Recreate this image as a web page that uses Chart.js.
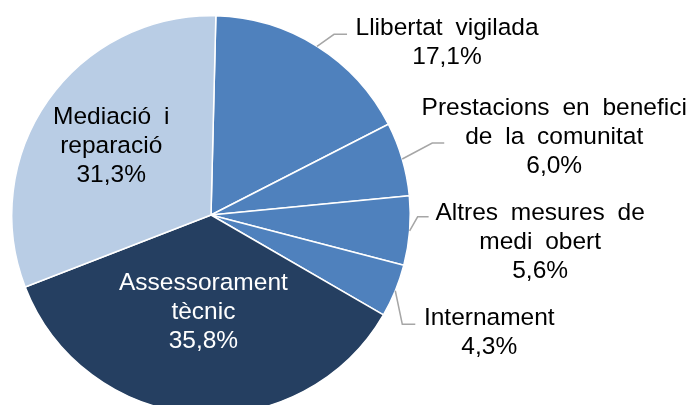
<!DOCTYPE html>
<html>
<head>
<meta charset="utf-8">
<script src="https://cdn.jsdelivr.net/npm/chart.js@4"></script>
<style>
  html, body { margin: 0; padding: 0; background: #fff; }
  .wrap { width: 691px; height: 405px; overflow: hidden; position: relative; }
</style>
</head>
<body>
<div class="wrap"><canvas id="pie" width="691" height="425"></canvas></div>
<script>
// categories (split over lines as in the label boxes)
const categories = [
    ['Llibertat vigilada'],
    ['Prestacions en benefici', 'de la comunitat'],
    ['Altres mesures de', 'medi obert'],
    ['Internament'],
    ['Assessorament', 'tècnic'],
    ['Mediació i', 'reparació']
];
const shares = [17.1, 6.0, 5.6, 4.3, 35.8, 31.3];
const colors = ['#4F81BD', '#4F81BD', '#4F81BD', '#4F81BD', '#253F61', '#B9CDE5'];

// label layout: inside labels sit at a fraction of the radius,
// outside ones get a leader line (elbow + horizontal run) and a text offset
const labelLayout = [
    { out: true, elbow: [17, -12], run: 13, text: [130, -4] },
    { out: true, elbow: [30, -16], run: 12, text: [152, -22] },
    { out: true, elbow: [8, -14], run: 11, text: [130.5, 11] },
    { out: true, elbow: [7, 33.5], run: 13, text: [94, 41.5] },
    { out: false, r: 0.49, color: '#fff' },
    { out: false, r: 0.6, color: '#000', dx: -2 }
];

const fmt = v => v.toFixed(1).replace('.', ',') + '%';

const pieLabels = {
    id: 'pieLabels',
    afterDatasetsDraw(chart) {
        const ctx = chart.ctx;
        const arcs = chart.getDatasetMeta(0).data;
        ctx.save();
        ctx.font = '24.5px "Liberation Sans", Arial, sans-serif';
        ctx.textAlign = 'center';
        ctx.textBaseline = 'middle';
        if ('wordSpacing' in ctx) ctx.wordSpacing = '6px';
        const lh = 29;
        arcs.forEach((arc, i) => {
            const { x, y, startAngle, endAngle, outerRadius } = arc.getProps(['x', 'y', 'startAngle', 'endAngle', 'outerRadius'], true);
            const mid = (startAngle + endAngle) / 2;
            const L = labelLayout[i];
            const lines = categories[i].concat([fmt(shares[i])]);
            let cx, cy;
            if (L.out) {
                const ax = x + Math.cos(mid) * outerRadius;
                const ay = y + Math.sin(mid) * outerRadius;
                const ex = ax + L.elbow[0], ey = ay + L.elbow[1];
                ctx.strokeStyle = '#A6A6A6';
                ctx.lineWidth = 1.5;
                ctx.beginPath();
                ctx.moveTo(ax, ay);
                ctx.lineTo(ex, ey);
                ctx.lineTo(ex + L.run, ey);
                ctx.stroke();
                cx = ax + L.text[0];
                cy = ay + L.text[1];
                ctx.fillStyle = '#000';
            } else {
                cx = x + Math.cos(mid) * outerRadius * L.r + (L.dx || 0);
                cy = y + Math.sin(mid) * outerRadius * L.r;
                ctx.fillStyle = L.color;
            }
            const top = cy - (lines.length - 1) * lh / 2;
            lines.forEach((t, k) => ctx.fillText(t, cx, top + k * lh));
        });
        ctx.restore();
    }
};

new Chart(document.getElementById('pie'), {
    type: 'pie',
    data: {
        labels: categories.map(c => c.join(' ')),
        datasets: [{
            data: shares,
            backgroundColor: colors,
            borderColor: '#fff',
            borderWidth: 1.5
        }]
    },
    options: {
        responsive: false,
        animation: false,
        rotation: 1.4,
        events: [],
        layout: { padding: { left: 11, top: 15, right: 280, bottom: 10 } },
        plugins: { legend: { display: false }, tooltip: { enabled: false } }
    },
    plugins: [pieLabels]
});
</script>
</body>
</html>
